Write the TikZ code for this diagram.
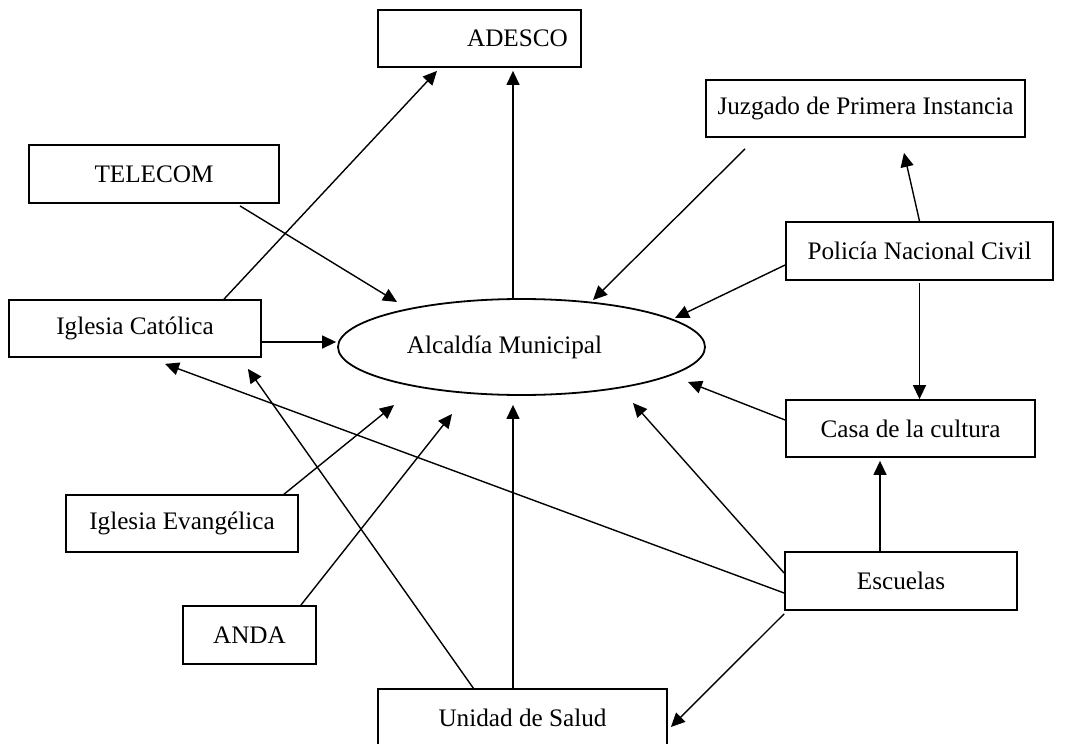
\documentclass[tikz,border=0pt]{standalone}
\usepackage{fontspec}
\setmainfont{Liberation Serif}
\usetikzlibrary{arrows.meta,calc,shapes.geometric}

\begin{document}
\begin{tikzpicture}[x=0.5pt, y=-0.5pt,
  every node/.style={font=\fontsize{12.6}{15}\selectfont},
  caja/.style={draw, shape=rectangle, line width=0.9pt, inner sep=0pt},
  flecha/.style={-{Triangle[length=7pt,width=6.5pt]}, line width=0.7pt}]
\useasboundingbox (0,0) rectangle (1066,744);

\node (alcaldia) [draw, shape=ellipse, line width=0.9pt, inner sep=0pt, minimum width=183.5pt, minimum height=48pt] at (521.5,347) {Alcald\'ia Municipal\hspace*{17pt}};

\node (adesco) [caja, minimum width=101.5pt, minimum height=28.5pt] at (479.5,38.5) {\hspace*{38pt}ADESCO};
\node (telecom) [caja, minimum width=125pt, minimum height=29pt] at (154,174) {TELECOM};
\node (juzgado) [caja, minimum width=159.5pt, minimum height=28.5pt] at (865.5,108.5) {Juzgado de Primera Instancia};
\node (policia) [caja, minimum width=133.5pt, minimum height=29pt] at (919.5,251) {Polic\'ia Nacional Civil};
\node (catolica) [caja, minimum width=126pt, minimum height=28.5pt] at (135,328.5) {Iglesia Cat\'olica};
\node (casa) [caja, minimum width=124.5pt, minimum height=28.5pt] at (910.5,428.5) {Casa de la cultura};
\node (evangelica) [caja, minimum width=116pt, minimum height=28.5pt] at (182,523.5) {Iglesia Evang\'elica};
\node (escuelas) [caja, minimum width=116pt, minimum height=29pt] at (901,581) {Escuelas};
\node (anda) [caja, minimum width=66.5pt, minimum height=29pt] at (249.5,635) {ANDA};
\node (unidad) [caja, minimum width=144.5pt, minimum height=29pt] at (522.5,718) {Unidad de Salud};

% hacia ADESCO
\draw[flecha] ($(catolica.north)+(89,0)$) -- ($(adesco.south)+(-42.5,3)$);
\draw[flecha] ($(alcaldia.north)+(-8.5,0)$) -- ($(adesco.south)+(33.5,3)$);

% hacia la Alcaldia
\draw[flecha] ($(telecom.south)+(86,2)$) -- ($(alcaldia.center)+(-124.5,-45)$);
\draw[flecha] ($(juzgado.south)+(-120.5,11)$) -- ($(alcaldia.center)+(71.5,-47)$);
\draw[flecha] ($(policia.west)+(0,14)$) -- ($(alcaldia.center)+(153.5,-29)$);
\draw[flecha] ($(catolica.east)+(0,13.5)$) -- ($(alcaldia.west)+(-1,-5)$);
\draw[flecha] ($(casa.west)+(0,-8.5)$) -- ($(alcaldia.center)+(166.5,35)$);
\draw[flecha] ($(escuelas.west)+(0,-8)$) -- ($(alcaldia.center)+(111.5,56)$);
\draw[flecha] ($(unidad.north)+(-9.5,1)$) -- ($(alcaldia.south)+(-8.5,9)$);
\draw[flecha] ($(evangelica.north east)+(-16,1)$) -- ($(alcaldia.center)+(-127.5,58)$);
\draw[flecha] ($(anda.north east)+(-16,0)$) -- ($(alcaldia.center)+(-69.5,67)$);

% entre instituciones
\draw[flecha] (policia.north) -- ($(juzgado.south)+(38.5,15)$);
\draw[flecha] ($(policia.south)+(0,2)$) -- ($(casa.north)+(9,0)$);
\draw[flecha] ($(escuelas.north)+(-21,0)$) -- ($(casa.south)+(-30.5,3)$);
\draw[flecha] ($(escuelas.west)+(0,12)$) -- ($(catolica.south)+(30,6)$);
\draw[flecha] ($(escuelas.south west)+(0,3)$) -- ($(unidad.east)+(3,9)$);
\draw[flecha] ($(unidad.north)+(-48.5,1)$) -- ($(catolica.south east)+(-14,11)$);
\end{tikzpicture}
\end{document}
